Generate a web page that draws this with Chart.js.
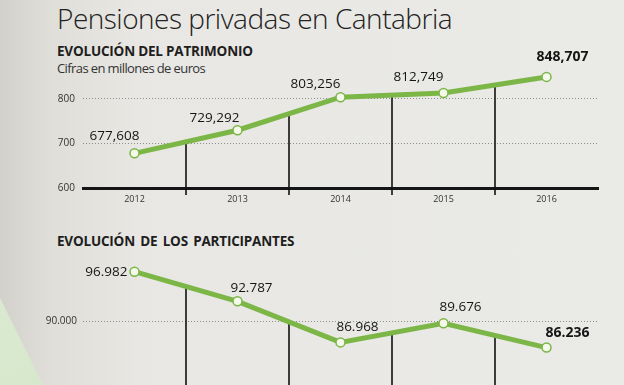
<!DOCTYPE html>
<html lang="es">
<head>
<meta charset="utf-8">
<script src="https://cdn.jsdelivr.net/npm/chart.js@4.4.1/dist/chart.umd.min.js"></script>
<style>
  html, body { margin: 0; padding: 0; }
  body {
    width: 624px; height: 385px; overflow: hidden; position: relative;
    background: linear-gradient(90deg, #d3d1cb 0px, #dfded9 50px, #e8e7e3 140px, #eaeae6 100%);
    font-family: "Open Sans", sans-serif; color: #1e1e1e;
  }
  .txt { position: absolute; left: 57px; white-space: nowrap; line-height: 1; }
  #titulo { top: 4px; font-size: 28px; font-weight: 300; letter-spacing: -0.5px; color: #222; }
  #sub1 { top: 45px; font-size: 13.5px; font-weight: 700; letter-spacing: -0.2px; }
  #nota { top: 62px; font-size: 13px; letter-spacing: -0.6px; color: #333; }
  #sub2 { top: 235px; font-size: 13.5px; font-weight: 700; letter-spacing: -0.2px; word-spacing: 2px; }
  #billete {
    position: absolute; left: 0; top: 0; width: 624px; height: 385px;
    background: linear-gradient(150deg, #e2eeda, #cde3c1);
    clip-path: polygon(0 298px, 43px 385px, 0 385px);
  }
  canvas { position: absolute; left: 0; }
  #cPatrimonio { top: 0; }
  #cParticipantes { top: 230px; }
</style>
</head>
<body>
<div id="billete"></div>
<div class="txt" id="titulo">Pensiones privadas en Cantabria</div>
<div class="txt" id="sub1">EVOLUCIÓN DEL PATRIMONIO</div>
<div class="txt" id="nota">Cifras en millones de euros</div>
<div class="txt" id="sub2">EVOLUCIÓN DE LOS PARTICIPANTES</div>
<canvas id="cPatrimonio" width="624" height="215"></canvas>
<canvas id="cParticipantes" width="624" height="185"></canvas>
<script>
// datos
const anos = ['2012', '2013', '2014', '2015', '2016'];
const patrimonio = [677.608, 729.292, 803.256, 812.749, 848.707];
const participantes = [96982, 92787, 86968, 89676, 86236];
const ticksPatrimonio = [600, 700, 800];
const ticksParticipantes = [80000, 90000];

// desplazamiento de las etiquetas respecto al punto
const offPatrimonio = [[-20, -17], [-23, -12], [-25, -13], [-25, -16], [16, -20]];
const offParticipantes = [[-7, 0], [14, -13], [17, -15], [17, -16], [21, -15]];

const verde = '#7bb646';

function fmtComa(v) {
    return v.toFixed(3).replace('.', ',');
}
function fmtPunto(v) {
    const miles = Math.floor(v / 1000);
    return miles + '.' + String(v % 1000).padStart(3, '0');
}

// lineas verticales entre años, desde la linea hasta el eje
const separadores = {
    id: 'separadores',
    beforeDatasetsDraw(chart, args, opts) {
        const pts = chart.getDatasetMeta(0).data;
        const ctx = chart.ctx;
        const abajo = chart.chartArea.bottom + opts.extra;
        ctx.save();
        ctx.strokeStyle = '#111';
        ctx.lineWidth = 1.6;
        for (let i = 1; i < pts.length; i++) {
            const x = (pts[i - 1].x + pts[i].x) / 2;
            const y = (pts[i - 1].y + pts[i].y) / 2;
            ctx.beginPath();
            ctx.moveTo(x, y);
            ctx.lineTo(x, abajo);
            ctx.stroke();
        }
        ctx.restore();
    }
};

const etiquetas = {
    id: 'etiquetas',
    afterDatasetsDraw(chart, args, opts) {
        const pts = chart.getDatasetMeta(0).data;
        const valores = chart.data.datasets[0].data;
        const ctx = chart.ctx;
        ctx.save();
        ctx.fillStyle = '#151515';
        ctx.textBaseline = 'middle';
        pts.forEach((p, i) => {
            const ultimo = i === pts.length - 1;
            ctx.font = (ultimo ? '700 14px' : '13.5px') + ' "Open Sans"';
            ctx.textAlign = (opts.derechaPrimero && i === 0) ? 'right' : 'center';
            ctx.fillText(opts.fmt(valores[i]), p.x + opts.off[i][0], p.y + opts.off[i][1]);
        });
        ctx.restore();
    }
};

function opcionesLinea(ejeY, ticksY, fmtTick, altoX, padTop, padTick) {
    return {
        responsive: false,
        animation: false,
        layout: { padding: { top: padTop, right: 26, left: 0, bottom: 0 } },
        plugins: { legend: { display: false }, tooltip: { enabled: false } },
        scales: {
            x: {
                offset: true,
                grid: { display: false, drawTicks: false },
                border: { display: true, color: '#151515', width: 3 },
                ticks: { color: '#333', font: { family: 'Open Sans', size: 9 }, padding: 6, maxRotation: 0 },
                afterFit: s => { s.height = altoX; }
            },
            y: {
                min: ejeY[0], max: ejeY[1],
                afterBuildTicks: s => { s.ticks = ticksY.map(v => ({ value: v })); },
                afterFit: s => { s.width = 83; },
                border: { display: false, dash: [1, 2] },
                grid: {
                    drawTicks: false,
                    lineWidth: 1,
                    color: c => c.tick && c.tick.value === ticksY[0] ? 'rgba(0,0,0,0)' : '#8d8d8d'
                },
                ticks: {
                    color: '#333', font: { family: 'Open Sans', size: 10 }, padding: padTick,
                    callback: v => fmtTick(v)
                }
            }
        }
    };
}

function dataset(valores) {
    return {
        data: valores,
        borderColor: verde,
        borderWidth: 5,
        pointRadius: 4.5,
        pointBackgroundColor: '#f5f9ec',
        pointBorderColor: verde,
        pointBorderWidth: 1.5,
        tension: 0
    };
}

const optP = opcionesLinea([600, 900], ticksPatrimonio, v => String(v), 27, 54, 8);
optP.plugins.separadores = { extra: 7 };
optP.plugins.etiquetas = { fmt: fmtComa, off: offPatrimonio };
new Chart(document.getElementById('cPatrimonio'), {
    type: 'line',
    data: { labels: anos, datasets: [dataset(patrimonio)] },
    options: optP,
    plugins: [separadores, etiquetas]
});

const optQ = opcionesLinea([80000, 100000], ticksParticipantes, fmtPunto, 23.4, 20.4, 6);
optQ.plugins.separadores = { extra: 0 };
optQ.plugins.etiquetas = { fmt: fmtPunto, off: offParticipantes, derechaPrimero: true };
new Chart(document.getElementById('cParticipantes'), {
    type: 'line',
    data: { labels: anos, datasets: [dataset(participantes)] },
    options: optQ,
    plugins: [separadores, etiquetas]
});
</script>
</body>
</html>
